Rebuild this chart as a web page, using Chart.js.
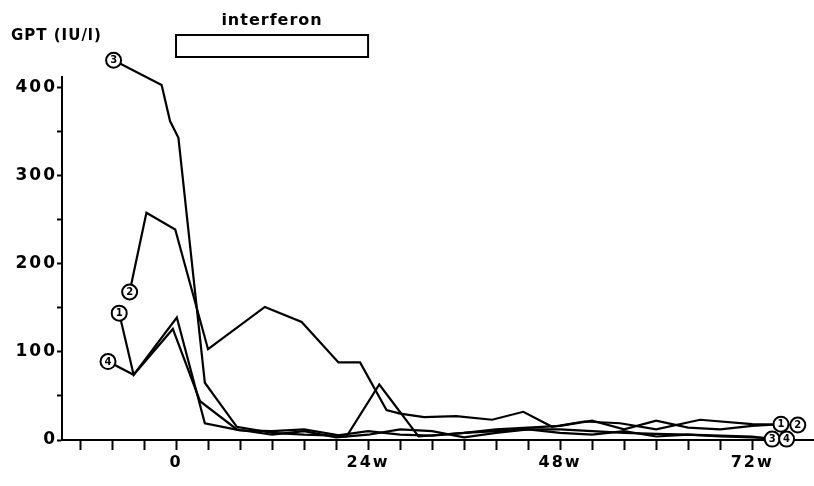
<!DOCTYPE html>
<html>
<head>
<meta charset="utf-8">
<script src="https://cdn.jsdelivr.net/npm/chart.js@4"></script>
<style>
  html, body { margin: 0; padding: 0; background: #fff; }
  #wrap { width: 814px; height: 486px; position: relative; }
</style>
</head>
<body>
<div id="wrap"><canvas id="gpt-chart"></canvas></div>
<script>
// weeks from start of interferon, GPT in IU/l
const seriesNames = ["1", "2", "3", "4"];

const weeks1 = [-7.1, -5.3, 0.1, 3.6, 8, 12, 16, 21.3, 25.4, 30.3, 36, 40, 44, 48, 52, 56, 60, 64, 68, 72, 75.6];
const gpt1 = [144, 74, 139, 19, 11, 10, 12, 4, 63, 4, 8, 12, 14, 16, 22, 12, 22, 14, 12, 16, 18];

const weeks2 = [-5.8, -3.7, -0.1, 4, 11.1, 15.7, 20.3, 23, 26.3, 28, 31, 35, 39.5, 43.4, 47, 51, 55.5, 60, 65.5, 72, 77.7];
const gpt2 = [168, 258, 239, 103, 151, 134, 88, 88, 34, 30, 26, 27, 23, 32, 15, 21, 19, 12, 23, 18, 17];

const weeks3 = [-7.8, -1.8, -0.75, 0.3, 3.6, 7.6, 12, 16, 20, 24, 28, 32, 36, 40, 44, 48, 52, 56, 60, 64, 68, 72, 74.5];
const gpt3 = [431, 403, 362, 343, 65, 15, 8, 6, 5, 10, 6, 5, 8, 10, 12, 12, 10, 8, 7, 6, 5, 4, 1];

const weeks4 = [-8.5, -5.3, -0.4, 3, 7.6, 12, 16, 20, 24, 28, 32, 36, 40, 44, 48, 52, 56, 60, 64, 68, 72, 76.3];
const gpt4 = [89, 74, 126, 44, 12, 6, 10, 3, 6, 12, 10, 3, 8, 12, 8, 6, 10, 4, 6, 4, 3, 1];

const xLabelWeeks = [0, 24, 48, 72];
const yLabelValues = [0, 100, 200, 300, 400];
const interferonWeeks = [0, 24];

const allWeeks = [weeks1, weeks2, weeks3, weeks4];
const allGpt = [gpt1, gpt2, gpt3, gpt4];

const FONT = "'DejaVu Sans', 'Liberation Sans', Arial, sans-serif";

const datasets = allGpt.map((vals, i) => ({
  label: seriesNames[i],
  data: vals.map((v, j) => ({ x: allWeeks[i][j], y: v })),
  borderColor: "#000",
  borderWidth: 2.2,
  pointRadius: 0,
  tension: 0,
  fill: false,
  clip: false,
}));

// the scanned figure has widely spaced lettering
const spacing = {
  id: "spacing",
  beforeDraw(chart) {
    chart.ctx.letterSpacing = "2px";
  },
};

// circled numbers at both ends of each line, plus the titles and the interferon bar
const annotations = {
  id: "annotations",
  afterDatasetsDraw(chart) {
    const ctx = chart.ctx;
    ctx.save();
    ctx.letterSpacing = "0px";
    chart.data.datasets.forEach((ds, i) => {
      const pts = chart.getDatasetMeta(i).data;
      [pts[0], pts[pts.length - 1]].forEach((p) => {
        ctx.beginPath();
        ctx.arc(p.x, p.y, 7.5, 0, Math.PI * 2);
        ctx.fillStyle = "#fff";
        ctx.fill();
        ctx.lineWidth = 2;
        ctx.strokeStyle = "#000";
        ctx.stroke();
        ctx.fillStyle = "#000";
        ctx.font = "bold 10px " + FONT;
        ctx.textAlign = "center";
        ctx.textBaseline = "middle";
        ctx.fillText(ds.label, p.x, p.y + 0.5);
      });
    });

    const xs = chart.scales.x;
    const x0 = xs.getPixelForValue(interferonWeeks[0]);
    const x1 = xs.getPixelForValue(interferonWeeks[1]);
    ctx.lineWidth = 2;
    ctx.strokeStyle = "#000";
    ctx.strokeRect(x0, 35, x1 - x0, 22);

    ctx.fillStyle = "#000";
    ctx.textBaseline = "middle";
    ctx.textAlign = "center";
    ctx.letterSpacing = "1px";
    ctx.font = "bold 16px " + FONT;
    ctx.fillText("interferon", (x0 + x1) / 2, 21);

    ctx.textAlign = "left";
    ctx.font = "bold 15px " + FONT;
    ctx.fillText("GPT (IU/l)", 11, 36);
    ctx.restore();
  },
};

new Chart(document.getElementById("gpt-chart"), {
  type: "line",
  data: { datasets: datasets },
  options: {
    responsive: true,
    maintainAspectRatio: false,
    animation: false,
    layout: { padding: { top: 77, right: 1, left: 0, bottom: 0 } },
    plugins: { legend: { display: false }, tooltip: { enabled: false } },
    scales: {
      x: {
        type: "linear",
        min: -14.25,
        max: 79.6,
        afterFit: (s) => { s.height = 46; },
        border: { color: "#000", width: 2 },
        grid: {
          drawOnChartArea: false,
          tickLength: 10,
          tickWidth: 2,
          tickColor: (c) => (c.tick && c.tick.value > 72 ? "rgba(0,0,0,0)" : "#000"),
        },
        ticks: {
          stepSize: 4,
          includeBounds: false,
          maxRotation: 0,
          autoSkip: false,
          padding: 3,
          color: "#000",
          font: { family: FONT, size: 16, weight: "bold" },
          callback: (v) => (xLabelWeeks.includes(v) ? (v === 0 ? "0" : v + "w") : ""),
        },
      },
      y: {
        min: 0,
        max: 412,
        afterFit: (s) => { s.width = 62; },
        border: { color: "#000", width: 2 },
        grid: { drawOnChartArea: false, tickLength: 5, tickWidth: 2, tickColor: "#000" },
        ticks: {
          stepSize: 50,
          includeBounds: false,
          autoSkip: false,
          padding: 0,
          color: "#000",
          font: { family: FONT, size: 17, weight: "bold" },
          callback: (v) => (yLabelValues.includes(v) ? String(v) : ""),
        },
      },
    },
  },
  plugins: [spacing, annotations],
});
</script>
</body>
</html>
